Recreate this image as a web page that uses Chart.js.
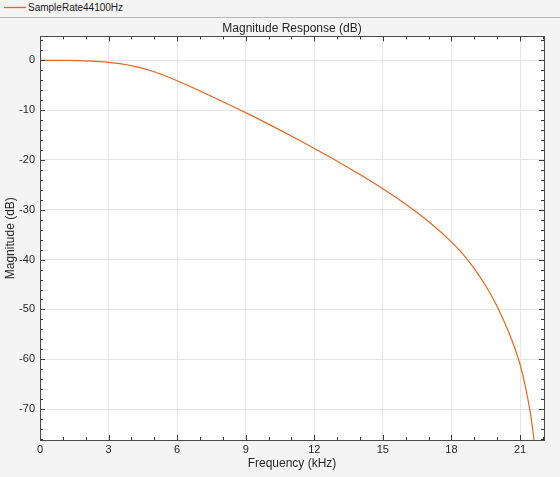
<!DOCTYPE html>
<html>
<head>
<meta charset="utf-8">
<script src="https://cdn.jsdelivr.net/npm/chart.js@4/dist/chart.umd.min.js"></script>
<style>
  html, body { margin: 0; padding: 0; background: #f4f4f4; width: 560px; height: 477px; overflow: hidden; }
  #legend { position: absolute; left: 0; top: 0; width: 560px; height: 17px; border-bottom: 1px solid #b8b8b8; background: #f4f4f4;
            font-family: "Liberation Sans", Arial, sans-serif; font-size: 10px; color: #1a1a1a; }
  #legend svg { position: absolute; left: 3px; top: 4px; }
  #legend .label { position: absolute; left: 28px; top: 2px; line-height: 12px; }
  #wrap { position: absolute; left: 0; top: 18px; width: 560px; height: 459px; }
</style>
</head>
<body>
<div id="legend"><svg width="24" height="8"><line x1="1" y1="3.5" x2="23" y2="3.5" stroke="#e8661f" stroke-width="1.3"/></svg><div class="label">SampleRate44100Hz</div></div>
<div id="wrap"><canvas id="c" width="560" height="459"></canvas></div>
<script>
// Frequency (kHz)
const freqKHz = [0, 1, 2, 3, 4, 5, 6, 7, 8, 9, 10, 11, 12, 13, 14, 15, 16, 17, 18, 18.5, 19, 19.5, 20, 20.5, 21, 21.25, 21.5, 21.75];
// Magnitude (dB)
const magnitudeDB = [0, -0.02, -0.1, -0.4, -1.05, -2.3, -4.1, -6.15, -8.3, -10.5, -12.8, -15.2, -17.7, -20.25, -22.93, -25.78, -28.88, -32.35, -36.45, -38.9, -41.8, -45.25, -49.4, -54.5, -61.0, -65.8, -72.2, -81.5];
const xTicks = [0, 3, 6, 9, 12, 15, 18, 21];
const yTicks = [-70, -60, -50, -40, -30, -20, -10, 0];
const seriesName = 'SampleRate44100Hz';

const FONT = '"Liberation Sans", Arial, sans-serif';
const AXIS_COLOR = '#262626';

const boxTicks = {
  id: 'boxTicks',
  afterDatasetsDraw(chart) {
    const ctx = chart.ctx, a = chart.chartArea;
    const xs = chart.scales.x, ys = chart.scales.y;
    ctx.save();
    ctx.strokeStyle = '#3a3a3a';
    ctx.lineWidth = 1;
    for (let f = 0; f <= 22; f += 1) {
      const px = Math.round(xs.getPixelForValue(f)) + 0.5;
      const len = (f % 3 === 0) ? 5 : 3;
      ctx.beginPath();
      ctx.moveTo(px, a.bottom); ctx.lineTo(px, a.bottom - len);
      ctx.moveTo(px, a.top); ctx.lineTo(px, a.top + len);
      ctx.stroke();
    }
    for (let d = -76; d <= 4; d += 2) {
      const py = Math.round(ys.getPixelForValue(d)) + 0.5;
      const len = (d % 10 === 0) ? 5 : 3;
      ctx.beginPath();
      ctx.moveTo(a.left, py); ctx.lineTo(a.left + len, py);
      ctx.moveTo(a.right, py); ctx.lineTo(a.right - len, py);
      ctx.stroke();
    }
    ctx.strokeStyle = '#4a4a4a';
    ctx.strokeRect(Math.round(a.left) + 0.5, Math.round(a.top) + 0.5, Math.round(a.right - a.left), Math.round(a.bottom - a.top));
    ctx.restore();
  }
};

const bg = {
  id: 'bg',
  beforeDraw(chart) {
    const ctx = chart.ctx, a = chart.chartArea;
    ctx.save();
    ctx.fillStyle = '#f4f4f4';
    ctx.fillRect(0, 0, chart.width, chart.height);
    ctx.fillStyle = '#ffffff';
    ctx.fillRect(a.left, a.top, a.right - a.left, a.bottom - a.top);
    ctx.restore();
  }
};

new Chart(document.getElementById('c'), {
  type: 'line',
  data: {
    datasets: [{
      label: seriesName,
      data: freqKHz.map((f, i) => ({ x: f, y: magnitudeDB[i] })),
      borderColor: '#e8661f',
      borderWidth: 1.2,
      pointRadius: 0,
      cubicInterpolationMode: 'monotone',
      fill: false
    }]
  },
  options: {
    responsive: false,
    animation: false,
    layout: { padding: { left: 0, right: 16, top: 0, bottom: 0 } },
    plugins: {
      legend: { display: false },
      tooltip: { enabled: false },
      title: {
        display: true,
        fullSize: false,
        text: 'Magnitude Response (dB)',
        color: AXIS_COLOR,
        font: { family: FONT, size: 12, weight: 'normal' },
        padding: { top: 3, bottom: 1 }
      }
    },
    scales: {
      x: {
        type: 'linear',
        min: 0, max: 22.05,
        afterBuildTicks: s => { s.ticks = xTicks.map(v => ({ value: v })); },
        afterFit: s => { s.height = 37; },
        ticks: { color: AXIS_COLOR, font: { family: FONT, size: 11 }, padding: 3, maxRotation: 0, autoSkip: false },
        grid: { color: '#e6e6e6', drawTicks: false },
        border: { display: false },
        title: { display: true, text: 'Frequency (kHz)', color: AXIS_COLOR, font: { family: FONT, size: 12 }, padding: { top: 0, bottom: 6 } }
      },
      y: {
        type: 'linear',
        min: -76.2, max: 4.8,
        afterBuildTicks: s => { s.ticks = yTicks.map(v => ({ value: v })); },
        afterFit: s => { s.width = 40; },
        ticks: { color: AXIS_COLOR, font: { family: FONT, size: 11 }, padding: 5, autoSkip: false },
        grid: { color: '#e6e6e6', drawTicks: false },
        border: { display: false },
        title: { display: true, text: 'Magnitude (dB)', color: AXIS_COLOR, font: { family: FONT, size: 12 }, padding: { top: 3, bottom: 0 } }
      }
    }
  },
  plugins: [bg, boxTicks]
});
</script>
</body>
</html>
